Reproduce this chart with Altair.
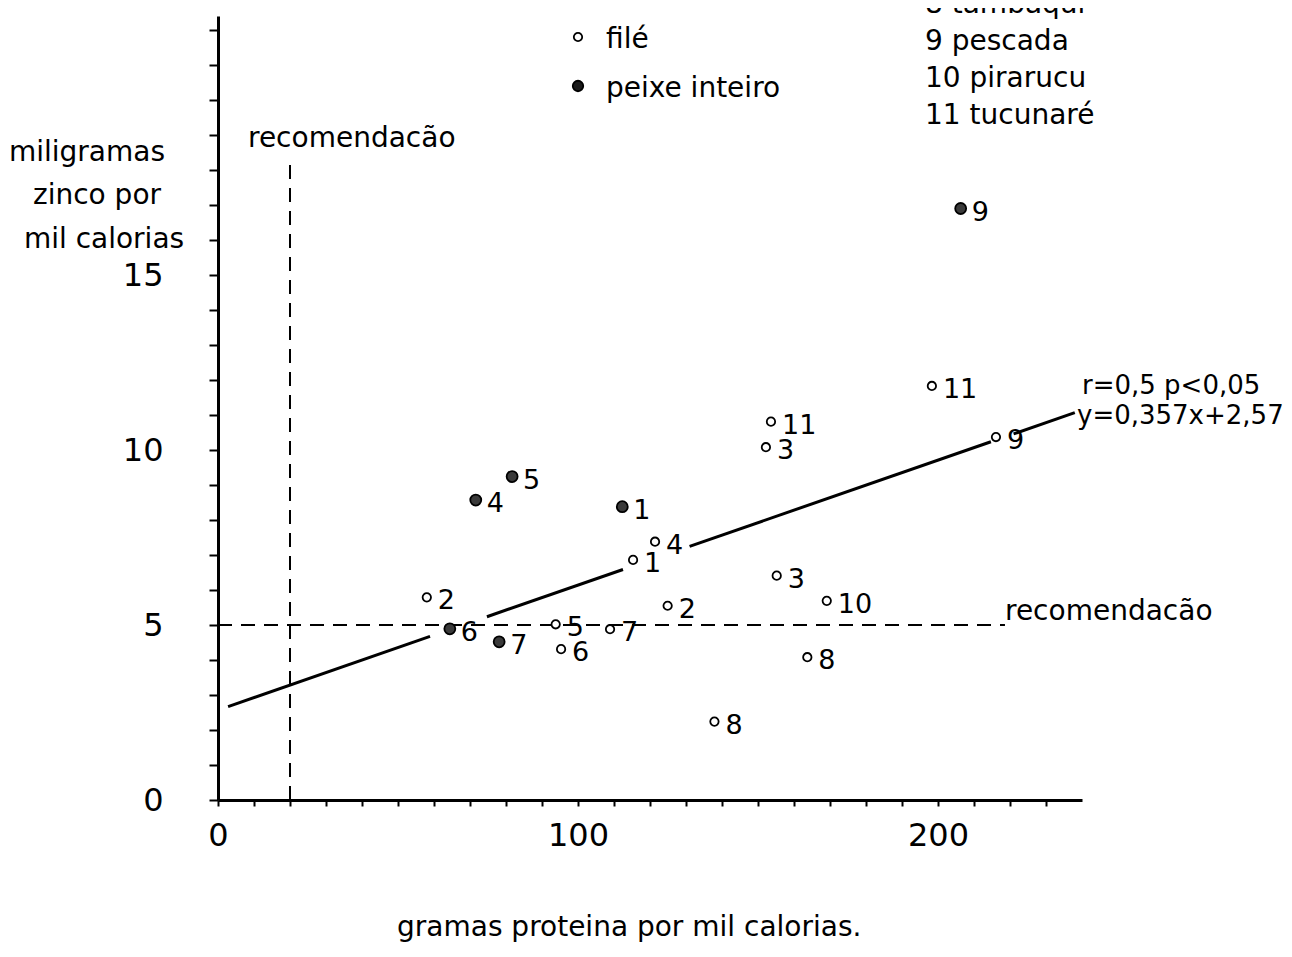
import altair as alt
import pandas as pd

# ---- data ----
# filé (open circles)
file_labels = ["2", "5", "6", "7", "1", "4", "2", "8", "3", "10", "8", "11", "3", "11", "9"]
file_x = [58.0, 93.8, 95.3, 108.9, 115.3, 121.4, 124.9, 137.9, 155.2, 169.1, 163.7, 153.6, 152.2, 198.3, 216.1]
file_y = [5.79, 5.02, 4.31, 4.88, 6.86, 7.38, 5.55, 2.24, 6.41, 5.69, 4.08, 10.81, 10.08, 11.83, 10.37]

# peixe inteiro (filled circles)
whole_labels = ["6", "7", "4", "5", "1", "9"]
whole_x = [64.4, 78.1, 71.6, 81.7, 112.3, 206.3]
whole_y = [4.89, 4.52, 8.57, 9.24, 8.38, 16.9]

# regression y = 0.357 (x/10) + 2.57, drawn in broken segments
slope = 0.0357
intercept = 2.57
seg_start = [2.8, 74.7, 131.0, 221.0]
seg_end = [58.9, 112.5, 214.7, 238.0]

# recommendation lines
rec_zinc = 5.0
rec_zinc_xend = 218.6
rec_prot = 20.0
rec_prot_yend = 18.3

x_ticks = list(range(0, 240, 10))
y_ticks = list(range(0, 23))

FONT = "DejaVu Sans"

# ---- tables ----
pts = pd.DataFrame({
    "x": file_x + whole_x,
    "y": file_y + whole_y,
    "label": file_labels + whole_labels,
    "tipo": ["filé"] * len(file_x) + ["peixe inteiro"] * len(whole_x),
})

rows = []
for i, (a, b) in enumerate(zip(seg_start, seg_end)):
    for xv in (a, b):
        rows.append({"seg": i, "x": xv, "y": slope * xv + intercept})
fit = pd.DataFrame(rows)

hrule = pd.DataFrame({"x": [0.0], "x2": [rec_zinc_xend], "y": [rec_zinc]})
vrule = pd.DataFrame({"x": [rec_prot], "y": [0.0], "y2": [rec_prot_yend]})

xs = alt.Scale(domain=[0, 240], nice=False, zero=False)
ys = alt.Scale(domain=[0, 22.4], nice=False, zero=False)

x_axis = alt.Axis(values=x_ticks, labelExpr="datum.value % 100 == 0 ? datum.label : ''",
                  tickSize=6, tickWidth=2, tickColor="black", domainColor="black",
                  domainWidth=3, labelFont=FONT, labelFontSize=32, labelColor="black",
                  labelPadding=14, grid=False, title=None, labelFlush=False,
                  labelOverlap=False)
y_axis = alt.Axis(values=y_ticks,
                  labelExpr="(datum.value % 5 == 0 && datum.value <= 15) ? datum.label : ''",
                  tickSize=9, tickWidth=2, tickColor="black", domainColor="black",
                  domainWidth=3, labelFont=FONT, labelFontSize=32, labelColor="black",
                  labelPadding=46, grid=False, title=None, labelFlush=False,
                  labelOverlap=False)

X = lambda f="x:Q": alt.X(f, scale=xs, axis=x_axis)
Y = lambda f="y:Q": alt.Y(f, scale=ys, axis=y_axis)

points = alt.Chart(pts).mark_point(shape="circle", filled=True, stroke="black",
                                   strokeWidth=1.8, opacity=1).encode(
    x=X(), y=Y(),
    fill=alt.Fill("tipo:N", scale=alt.Scale(domain=["filé", "peixe inteiro"],
                                            range=["white", "#3a3a3a"]), legend=None),
    size=alt.Size("tipo:N", scale=alt.Scale(domain=["filé", "peixe inteiro"],
                                            range=[70, 120]), legend=None),
)

labels = alt.Chart(pts).mark_text(align="left", baseline="middle", dx=11, dy=4,
                                  font=FONT, fontSize=27, color="black").encode(
    x=X(), y=Y(), text="label:N")

fit_line = alt.Chart(fit).mark_line(color="black", strokeWidth=3).encode(
    x=X(), y=Y(), detail="seg:N")

h_line = alt.Chart(hrule).mark_rule(color="black", strokeWidth=2, strokeDash=[14, 9]).encode(
    x=X(), x2="x2:Q", y=Y())
v_line = alt.Chart(vrule).mark_rule(color="black", strokeWidth=2, strokeDash=[14, 9]).encode(
    x=X(), y=Y(), y2="y2:Q")

one = pd.DataFrame({"a": [0]})


def note(txt, x, y, size=28, align="left", font=FONT):
    return alt.Chart(one).mark_text(text=txt, align=align, baseline="alphabetic",
                                    font=font, fontSize=size, color="black").encode(
        x=alt.value(x), y=alt.value(y))


def dot(x, y, fill, size):
    return alt.Chart(one).mark_point(shape="circle", filled=True, fill=fill, stroke="black",
                                     strokeWidth=1.8, size=size, opacity=1).encode(
        x=alt.value(x), y=alt.value(y))


notes = [
    note("miligramas", -131, 145, align="center"),
    note("zinco por", -121, 188, align="center"),
    note("mil calorias", -114, 232, align="center"),
    note("gramas proteina por mil calorias.", 179, 920),
    note("recomendacão", 30, 131),
    note("recomendacão", 787, 604),
    note("r=0,5  p<0,05", 864, 378, size=26),
    note("y=0,357x+2,57", 859, 408, size=26),
    note("filé", 388, 32),
    note("peixe inteiro", 388, 81),
    note("8  tambaqui", 707, -3),
    note("9  pescada", 707, 34),
    note("10 pirarucu", 707, 71),
    note("11 tucunaré", 707, 108),
    dot(360, 21, "white", 70),
    dot(360, 70, "#1a1a1a", 110),
]

chart = alt.layer(h_line, v_line, fit_line, points, labels, *notes).properties(
    width=864, height=784,
    autosize=alt.AutoSizeParams(type="none"),
    padding={"left": 210, "top": 8, "right": 202, "bottom": 142},
    background="white",
).configure_view(stroke=None).configure_axis(labelOverlap=False)

chart.save("out.html", embed_options={"renderer": "svg", "actions": False})
